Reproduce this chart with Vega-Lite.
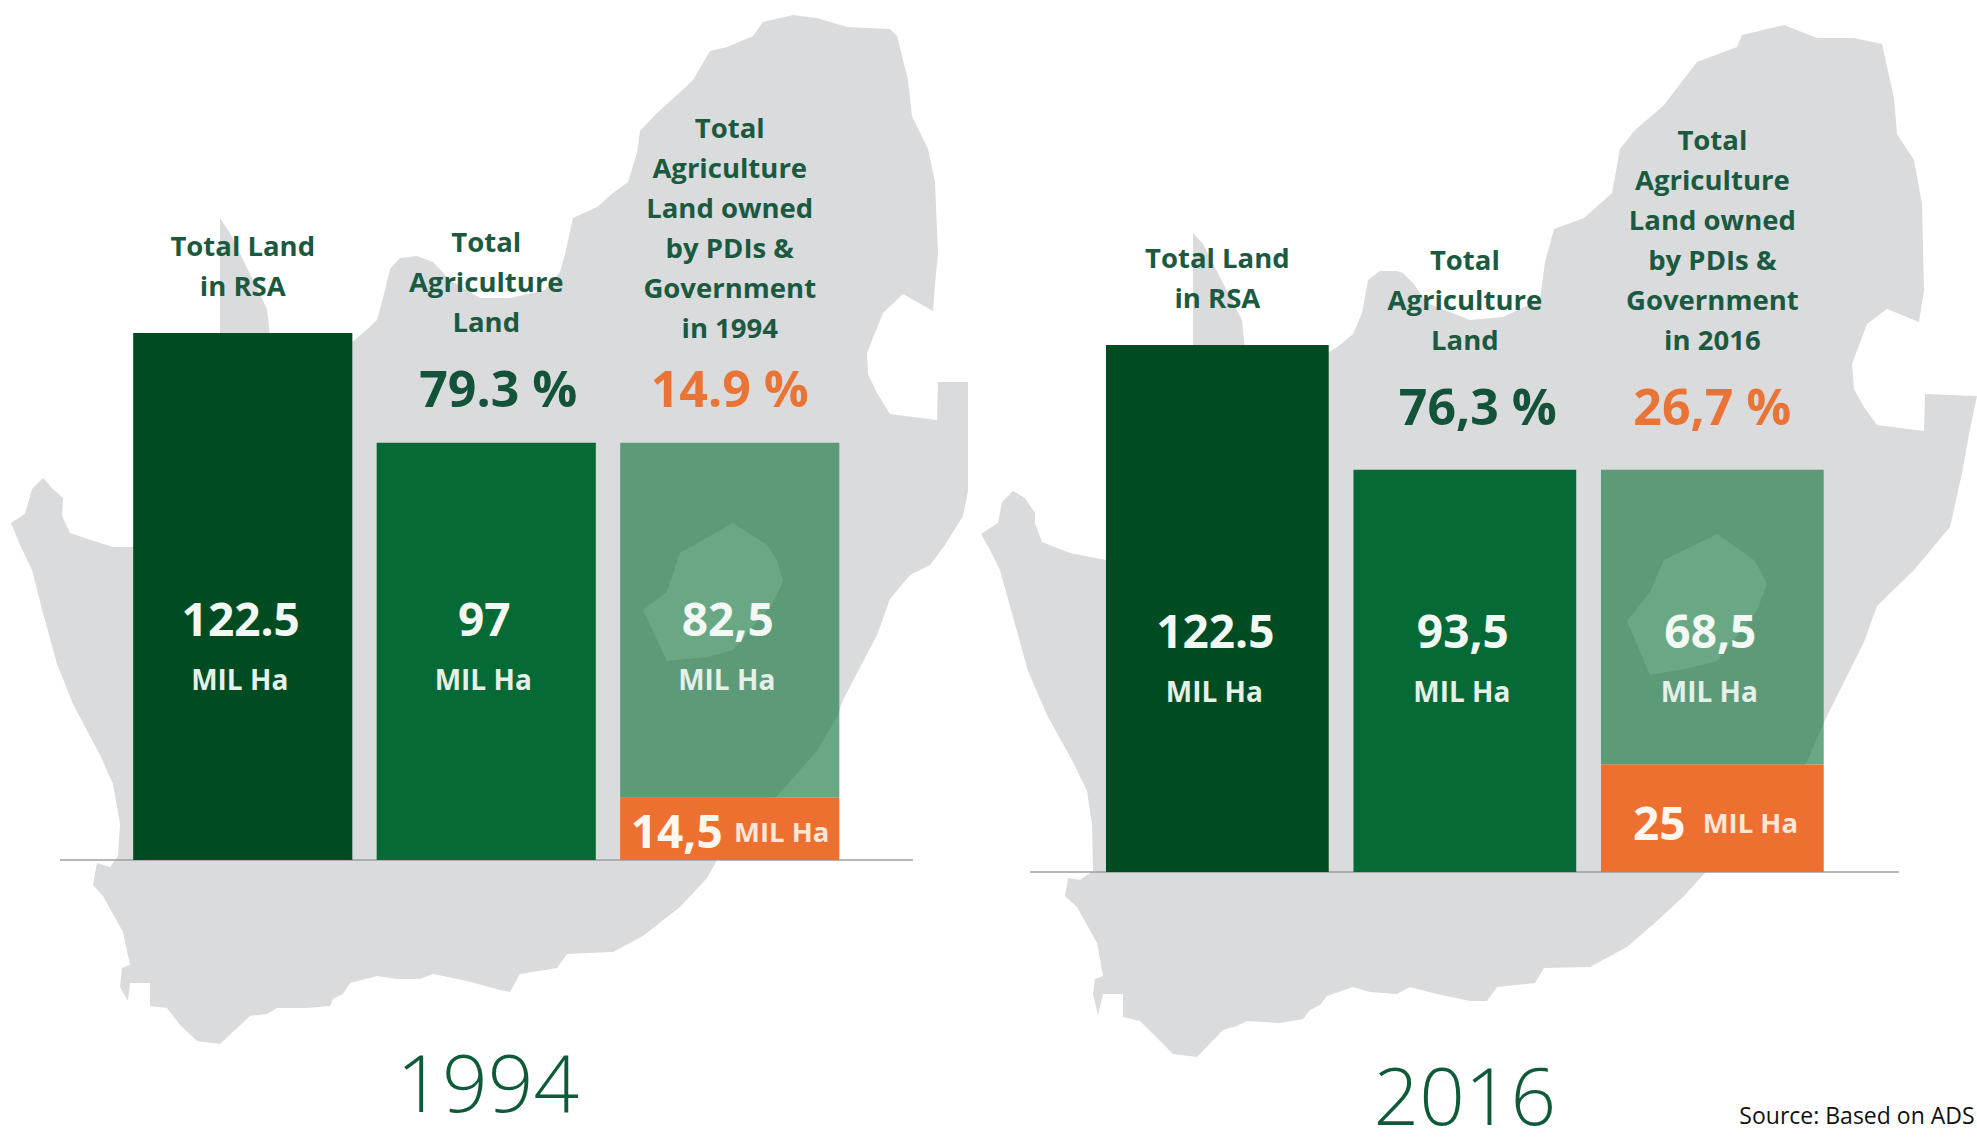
{"$schema":"https://vega.github.io/schema/vega-lite/v6.json","padding":0,"spacing":0,"bounds":"flush","background":"white","config":{"view":{"stroke":null}},
"hconcat":[
{"width":970,"height":1138,"layer":[
{"data":{"values":[{"type":"Feature","properties":{"name":"South Africa"},"geometry":{"type":"Polygon","coordinates":[[[11,523],[25,514],[32,489],[43,478],[53,489],[63,498],[62,516],[70,533],[97,542],[113,547],[133,547],[220,400],[220,218],[230,233],[267,309],[270,336],[352,342],[363,333],[377,320],[383,298],[390,269],[400,258],[417,256],[433,262],[450,280],[480,298],[510,298],[545,290],[560,272],[565,254],[573,218],[597,207],[613,193],[628,182],[637,153],[640,131],[657,113],[677,95],[693,80],[710,51],[727,47],[753,36],[763,22],[793,15],[817,18],[847,27],[890,29],[897,36],[908,80],[912,116],[928,149],[935,182],[938,254],[935,284],[933,311],[903,294],[883,313],[867,353],[868,374],[877,393],[890,414],[937,420],[938,382],[968,382],[968,491],[963,516],[945,545],[930,565],[910,575],[890,599],[877,635],[843,700],[838,715],[817,751],[777,796],[717,860],[707,878],[680,907],[643,936],[613,952],[567,954],[557,968],[520,974],[510,992],[500,990],[467,981],[433,974],[420,979],[397,979],[377,976],[350,983],[343,994],[333,999],[330,1006],[307,1008],[277,1008],[267,1014],[250,1016],[220,1044],[197,1041],[180,1025],[167,1008],[150,1006],[150,983],[130,983],[128,1001],[120,987],[122,968],[130,965],[123,932],[103,896],[93,885],[97,863],[110,867],[118,856],[120,824],[113,784],[100,755],[73,704],[57,664],[43,613],[32,570],[20,545],[11,523]]]}}]},
"mark":{"type":"geoshape","fill":"#dadbdd","stroke":null},"projection":{"type":"identity","scale":1,"translate":[0,0]}},
{"data":{"values":[{"type":"Feature","properties":{"name":"Lesotho"},"geometry":{"type":"Polygon","coordinates":[[[733,523],[767,545],[777,560],[783,581],[773,603],[733,650],[707,657],[667,661],[643,610],[667,592],[680,553],[733,523]]]}}]},
"mark":{"type":"geoshape","fill":"#ffffff","stroke":null},"projection":{"type":"identity","scale":1,"translate":[0,0]}},
{"data":{"values":[{"type":"Feature","properties":{"name":"Baseline"},"geometry":{"type":"LineString","coordinates":[[60,860],[913,860]]}}]},
"mark":{"type":"geoshape","filled":false,"stroke":"#9c9ea0","strokeWidth":1.5},"projection":{"type":"identity","scale":1,"translate":[0,0]}},
{"data":{"values":[
{"category":"Total Land in RSA","segment":"Total land","value":122.5,"total":122.5,"rank":2,"amount":"122.5","header":"Total Land\nin RSA","year":"1994"},
{"category":"Total Agriculture Land","segment":"Agriculture land","value":97,"total":97,"rank":2,"amount":"97","header":"Total\nAgriculture\nLand","share":"79.3 %","year":"1994"},
{"category":"Agriculture Land owned by PDIs & Government","segment":"Other agriculture land","value":82.5,"total":97,"rank":2,"amount":"82,5","header":"Total\nAgriculture\nLand owned\nby PDIs &\nGovernment\nin 1994","share":"14.9 %","year":"1994"},
{"category":"Agriculture Land owned by PDIs & Government","segment":"PDIs & Government","value":14.5,"total":97,"rank":1,"amount":"14,5","year":"1994"}]},
"encoding":{"x":{"field":"category","type":"nominal","axis":null,"sort":null,"scale":{"type":"band","domain":["Total Land in RSA","Total Agriculture Land","Agriculture Land owned by PDIs & Government"],"range":[121,851.5],"paddingInner":0.1,"paddingOuter":0.05}}},
"layer":[
{"mark":{"type":"bar"},"encoding":{"y":{"field":"value","type":"quantitative","axis":null,"stack":"zero","scale":{"domain":[-64.6,199.9],"nice":false,"zero":false}},"order":{"field":"rank"},"color":{"field":"segment","legend":null,"scale":{"domain":["Total land","Agriculture land","Other agriculture land","PDIs & Government"],"range":["#004c22","#056a36","rgba(15,114,58,0.62)","#ee7030"]}}}},
{"transform":[{"filter":"datum.category=='Total Land in RSA'"}],"mark":{"type":"text","font":"Open Sans","fontWeight":"bold","fontSize":27.5,"lineHeight":40,"lineBreak":"\n","baseline":"alphabetic","color":"#1b5a40","dy":-77},"encoding":{"y":{"field":"total","type":"quantitative"},"text":{"field":"header"}}},
{"transform":[{"filter":"datum.category=='Total Agriculture Land'"}],"mark":{"type":"text","font":"Open Sans","fontWeight":"bold","fontSize":27.5,"lineHeight":40,"lineBreak":"\n","baseline":"alphabetic","color":"#1b5a40","dy":-191},"encoding":{"y":{"field":"total","type":"quantitative"},"text":{"field":"header"}}},
{"transform":[{"filter":"datum.segment=='Other agriculture land'"}],"mark":{"type":"text","font":"Open Sans","fontWeight":"bold","fontSize":27.5,"lineHeight":40,"lineBreak":"\n","baseline":"alphabetic","color":"#1b5a40","dy":-305},"encoding":{"y":{"field":"total","type":"quantitative"},"text":{"field":"header"}}},
{"transform":[{"filter":"datum.category=='Total Agriculture Land'"}],"mark":{"type":"text","font":"Open Sans","fontWeight":"bold","fontSize":50,"baseline":"middle","color":"#12533a","dy":-51,"dx":12},"encoding":{"y":{"field":"total","type":"quantitative"},"text":{"field":"share"}}},
{"transform":[{"filter":"datum.segment=='Other agriculture land'"}],"mark":{"type":"text","font":"Open Sans","fontWeight":"bold","fontSize":50,"baseline":"middle","color":"#ea7436","dy":-51},"encoding":{"y":{"field":"total","type":"quantitative"},"text":{"field":"share"}}},
{"transform":[{"filter":"datum.segment!='PDIs & Government'"}],"mark":{"type":"text","font":"Open Sans","fontWeight":"bold","fontSize":46,"baseline":"middle","color":"#f2f8f3","dx":-2,"dy":4},"encoding":{"y":{"datum":56.2,"type":"quantitative"},"text":{"field":"amount"}}},
{"transform":[{"filter":"datum.segment!='PDIs & Government'"}],"mark":{"type":"text","font":"Open Sans","fontWeight":"bold","fontSize":28,"baseline":"middle","color":"#e4f0e8","dx":-3,"dy":1,"text":"MIL Ha"},"encoding":{"y":{"datum":41.7,"type":"quantitative"}}},
{"transform":[{"filter":"datum.segment=='PDIs & Government'"}],"mark":{"type":"text","font":"Open Sans","fontWeight":"bold","fontSize":46,"baseline":"middle","color":"#fff6ef","dx":-53,"dy":36},"encoding":{"y":{"field":"value","type":"quantitative"},"text":{"field":"amount"}}},
{"transform":[{"filter":"datum.segment=='PDIs & Government'"}],"mark":{"type":"text","font":"Open Sans","fontWeight":"bold","fontSize":27.5,"baseline":"middle","color":"#fbe6d8","dx":52,"dy":36,"text":"MIL Ha"},"encoding":{"y":{"field":"value","type":"quantitative"}}},
{"transform":[{"filter":"datum.category=='Total Agriculture Land'"}],"mark":{"type":"text","font":"Open Sans","fontWeight":300,"fontSize":80,"baseline":"middle","color":"#0f5a38","dx":1.5,"dy":3},"encoding":{"y":{"datum":-52.3,"type":"quantitative"},"text":{"field":"year"}}}
]}
]},
{"width":1007,"height":1138,"layer":[
{"data":{"values":[{"type":"Feature","properties":{"name":"South Africa"},"geometry":{"type":"Polygon","coordinates":[[[11,534],[28,523],[32,502],[43,491],[55,498],[65,513],[65,523],[72,542],[100,553],[136,560],[223,400],[223,233],[233,244],[272,320],[275,350],[358,353],[370,345],[383,334],[392,313],[398,280],[410,271],[427,271],[433,273],[443,283],[457,303],[500,320],[533,317],[570,300],[575,262],[584,229],[614,218],[642,193],[650,149],[664,131],[694,105],[710,84],[727,62],[767,47],[772,35],[814,25],[847,38],[884,38],[912,44],[924,98],[927,134],[944,160],[952,204],[954,291],[949,322],[917,309],[897,324],[882,364],[884,389],[894,407],[907,425],[954,431],[955,394],[1007,396],[1000,429],[992,473],[980,527],[944,570],[907,606],[894,642],[854,722],[837,762],[734,874],[714,896],[687,921],[657,947],[620,967],[574,968],[565,983],[527,987],[517,1001],[500,1001],[467,994],[440,987],[427,994],[400,992],[383,987],[357,996],[350,1005],[340,1010],[333,1019],[310,1023],[277,1021],[267,1026],[253,1030],[227,1057],[203,1054],[183,1034],[170,1021],[153,1017],[153,994],[133,994],[128,1015],[123,994],[125,979],[133,976],[127,943],[107,907],[95,896],[98,878],[110,880],[123,871],[122,824],[117,791],[103,762],[77,715],[58,671],[43,617],[30,570],[20,550],[11,534]]]}}]},
"mark":{"type":"geoshape","fill":"#dadbdd","stroke":null},"projection":{"type":"identity","scale":1,"translate":[0,0]}},
{"data":{"values":[{"type":"Feature","properties":{"name":"Lesotho"},"geometry":{"type":"Polygon","coordinates":[[[747,534],[784,560],[790,570],[797,584],[787,610],[747,661],[720,668],[680,675],[657,621],[680,592],[694,560],[747,534]]]}}]},
"mark":{"type":"geoshape","fill":"#ffffff","stroke":null},"projection":{"type":"identity","scale":1,"translate":[0,0]}},
{"data":{"values":[{"type":"Feature","properties":{"name":"Baseline"},"geometry":{"type":"LineString","coordinates":[[60,872],[929,872]]}}]},
"mark":{"type":"geoshape","filled":false,"stroke":"#9c9ea0","strokeWidth":1.5},"projection":{"type":"identity","scale":1,"translate":[0,0]}},
{"data":{"values":[
{"category":"Total Land in RSA","segment":"Total land","value":122.5,"total":122.5,"rank":2,"amount":"122.5","header":"Total Land\nin RSA","year":"2016"},
{"category":"Total Agriculture Land","segment":"Agriculture land","value":93.5,"total":93.5,"rank":2,"amount":"93,5","header":"Total\nAgriculture\nLand","share":"76,3 %","year":"2016"},
{"category":"Agriculture Land owned by PDIs & Government","segment":"Other agriculture land","value":68.5,"total":93.5,"rank":2,"amount":"68,5","header":"Total\nAgriculture\nLand owned\nby PDIs &\nGovernment\nin  2016","share":"26,7 %","year":"2016","source":"Source: Based on ADS"},
{"category":"Agriculture Land owned by PDIs & Government","segment":"PDIs & Government","value":25,"total":93.5,"rank":1,"amount":"25","year":"2016"}]},
"encoding":{"x":{"field":"category","type":"nominal","axis":null,"sort":null,"scale":{"type":"band","domain":["Total Land in RSA","Total Agriculture Land","Agriculture Land owned by PDIs & Government"],"range":[123.6,866.1],"paddingInner":0.1,"paddingOuter":0.05}}},
"layer":[
{"mark":{"type":"bar"},"encoding":{"y":{"field":"value","type":"quantitative","axis":null,"stack":"zero","scale":{"domain":[-61.8,202.7],"nice":false,"zero":false}},"order":{"field":"rank"},"color":{"field":"segment","legend":null,"scale":{"domain":["Total land","Agriculture land","Other agriculture land","PDIs & Government"],"range":["#004c22","#056a36","rgba(15,114,58,0.62)","#ee7030"]}}}},
{"transform":[{"filter":"datum.category=='Total Land in RSA'"}],"mark":{"type":"text","font":"Open Sans","fontWeight":"bold","fontSize":27.5,"lineHeight":40,"lineBreak":"\n","baseline":"alphabetic","color":"#1b5a40","dy":-77},"encoding":{"y":{"field":"total","type":"quantitative"},"text":{"field":"header"}}},
{"transform":[{"filter":"datum.category=='Total Agriculture Land'"}],"mark":{"type":"text","font":"Open Sans","fontWeight":"bold","fontSize":27.5,"lineHeight":40,"lineBreak":"\n","baseline":"alphabetic","color":"#1b5a40","dy":-200},"encoding":{"y":{"field":"total","type":"quantitative"},"text":{"field":"header"}}},
{"transform":[{"filter":"datum.segment=='Other agriculture land'"}],"mark":{"type":"text","font":"Open Sans","fontWeight":"bold","fontSize":27.5,"lineHeight":40,"lineBreak":"\n","baseline":"alphabetic","color":"#1b5a40","dy":-320},"encoding":{"y":{"field":"total","type":"quantitative"},"text":{"field":"header"}}},
{"transform":[{"filter":"datum.category=='Total Agriculture Land'"}],"mark":{"type":"text","font":"Open Sans","fontWeight":"bold","fontSize":50,"baseline":"middle","color":"#12533a","dy":-60,"dx":13},"encoding":{"y":{"field":"total","type":"quantitative"},"text":{"field":"share"}}},
{"transform":[{"filter":"datum.segment=='Other agriculture land'"}],"mark":{"type":"text","font":"Open Sans","fontWeight":"bold","fontSize":50,"baseline":"middle","color":"#ea7436","dy":-60},"encoding":{"y":{"field":"total","type":"quantitative"},"text":{"field":"share"}}},
{"transform":[{"filter":"datum.segment!='PDIs & Government'"}],"mark":{"type":"text","font":"Open Sans","fontWeight":"bold","fontSize":46,"baseline":"middle","color":"#f2f8f3","dx":-2,"dy":4},"encoding":{"y":{"datum":56.2,"type":"quantitative"},"text":{"field":"amount"}}},
{"transform":[{"filter":"datum.segment!='PDIs & Government'"}],"mark":{"type":"text","font":"Open Sans","fontWeight":"bold","fontSize":28,"baseline":"middle","color":"#e4f0e8","dx":-3,"dy":1,"text":"MIL Ha"},"encoding":{"y":{"datum":41.7,"type":"quantitative"}}},
{"transform":[{"filter":"datum.segment=='PDIs & Government'"}],"mark":{"type":"text","font":"Open Sans","fontWeight":"bold","fontSize":46,"baseline":"middle","color":"#fff6ef","dx":-53,"dy":61},"encoding":{"y":{"field":"value","type":"quantitative"},"text":{"field":"amount"}}},
{"transform":[{"filter":"datum.segment=='PDIs & Government'"}],"mark":{"type":"text","font":"Open Sans","fontWeight":"bold","fontSize":27.5,"baseline":"middle","color":"#fbe6d8","dx":38,"dy":60,"text":"MIL Ha"},"encoding":{"y":{"field":"value","type":"quantitative"}}},
{"transform":[{"filter":"datum.category=='Total Agriculture Land'"}],"mark":{"type":"text","font":"Open Sans","fontWeight":300,"fontSize":80,"baseline":"middle","color":"#0f5a38","dy":3},"encoding":{"y":{"datum":-52.5,"type":"quantitative"},"text":{"field":"year"}}},
{"transform":[{"filter":"datum.segment=='Other agriculture land'"}],"mark":{"type":"text","font":"Open Sans","fontSize":23,"align":"left","baseline":"middle","color":"#111111","dx":27,"dy":2},"encoding":{"y":{"datum":-56.5,"type":"quantitative"},"text":{"field":"source"}}}
]}
]}
]}
